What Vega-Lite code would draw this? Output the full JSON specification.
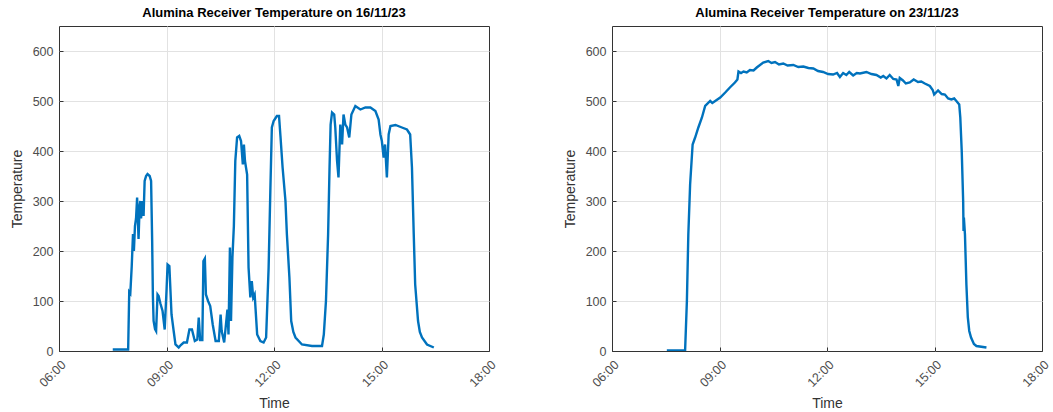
{
  "$schema": "https://vega.github.io/schema/vega-lite/v6.json",
  "background": "white",
  "padding": {"left": 9, "top": 6, "right": 5, "bottom": 2},
  "spacing": 63,
  "config": {
    "font": "Liberation Sans",
    "view": {"stroke": "#333333", "strokeWidth": 1},
    "title": {"fontSize": 13, "fontWeight": "bold", "color": "#000000", "offset": 6, "font": "Liberation Sans"},
    "axis": {
      "grid": true, "gridWidth": 1,
      "domain": false, "ticks": true, "tickSize": -4, "tickColor": "#333333", "tickWidth": 1,
      "labelColor": "#4d4d4d", "labelFontSize": 12.5, "labelFont": "Liberation Sans",
      "titleColor": "#333333", "titleFontSize": 14, "titleFontWeight": "normal", "titleFont": "Liberation Sans"
    }
  },
  "datasets": {
    "d1": [
      {"t":7.50,"temp":3},{"t":7.93,"temp":3},{"t":7.96,"temp":118},{"t":7.99,"temp":115},{"t":8.03,"temp":170},
      {"t":8.065,"temp":234},{"t":8.09,"temp":200},{"t":8.12,"temp":250},{"t":8.15,"temp":265},{"t":8.18,"temp":307},
      {"t":8.22,"temp":224},{"t":8.25,"temp":290},{"t":8.27,"temp":300},{"t":8.29,"temp":265},{"t":8.33,"temp":300},
      {"t":8.36,"temp":270},{"t":8.39,"temp":340},{"t":8.43,"temp":350},{"t":8.47,"temp":354},{"t":8.53,"temp":350},
      {"t":8.57,"temp":340},{"t":8.60,"temp":220},{"t":8.62,"temp":110},{"t":8.64,"temp":60},{"t":8.68,"temp":44},{"t":8.71,"temp":40},
      {"t":8.75,"temp":113},{"t":8.78,"temp":110},{"t":8.83,"temp":95},{"t":8.89,"temp":80},{"t":8.95,"temp":43},
      {"t":9.00,"temp":120},{"t":9.03,"temp":173},{"t":9.08,"temp":170},{"t":9.14,"temp":73},{"t":9.20,"temp":40},
      {"t":9.25,"temp":13},{"t":9.34,"temp":7},{"t":9.40,"temp":12},{"t":9.48,"temp":17},{"t":9.57,"temp":17},
      {"t":9.64,"temp":43},{"t":9.71,"temp":43},{"t":9.79,"temp":20},{"t":9.86,"temp":23},{"t":9.90,"temp":67},
      {"t":9.94,"temp":22},{"t":10.00,"temp":22},{"t":10.03,"temp":180},{"t":10.07,"temp":185},{"t":10.10,"temp":113},
      {"t":10.16,"temp":100},{"t":10.22,"temp":90},{"t":10.29,"temp":53},{"t":10.37,"temp":20},{"t":10.46,"temp":20},
      {"t":10.51,"temp":73},{"t":10.54,"temp":40},{"t":10.61,"temp":17},{"t":10.70,"temp":83},{"t":10.73,"temp":33},
      {"t":10.77,"temp":207},{"t":10.80,"temp":60},{"t":10.84,"temp":187},{"t":10.88,"temp":250},{"t":10.92,"temp":380},
      {"t":10.97,"temp":427},{"t":11.03,"temp":430},{"t":11.08,"temp":420},{"t":11.13,"temp":373},{"t":11.16,"temp":413},
      {"t":11.19,"temp":380},{"t":11.25,"temp":353},{"t":11.29,"temp":167},{"t":11.34,"temp":107},{"t":11.38,"temp":140},
      {"t":11.42,"temp":107},{"t":11.46,"temp":113},{"t":11.53,"temp":33},{"t":11.62,"temp":20},{"t":11.71,"temp":17},
      {"t":11.78,"temp":27},{"t":11.85,"temp":167},{"t":11.90,"temp":327},{"t":11.94,"temp":447},{"t":11.99,"temp":460},
      {"t":12.08,"temp":470},{"t":12.14,"temp":470},{"t":12.18,"temp":430},{"t":12.24,"temp":367},{"t":12.32,"temp":300},
      {"t":12.36,"temp":233},{"t":12.43,"temp":147},{"t":12.48,"temp":60},{"t":12.54,"temp":38},{"t":12.60,"temp":27},{"t":12.78,"temp":13},
      {"t":13.06,"temp":10},{"t":13.34,"temp":10},{"t":13.39,"temp":33},{"t":13.45,"temp":100},{"t":13.51,"temp":233},
      {"t":13.55,"temp":367},{"t":13.58,"temp":453},{"t":13.62,"temp":477},{"t":13.68,"temp":473},{"t":13.71,"temp":447},
      {"t":13.76,"temp":380},{"t":13.80,"temp":347},{"t":13.85,"temp":453},{"t":13.90,"temp":413},{"t":13.94,"temp":473},
      {"t":13.99,"temp":453},{"t":14.04,"temp":447},{"t":14.10,"temp":427},{"t":14.16,"temp":473},{"t":14.27,"temp":490},
      {"t":14.41,"temp":483},{"t":14.55,"temp":487},{"t":14.69,"temp":487},{"t":14.83,"temp":480},{"t":14.92,"temp":463},
      {"t":14.97,"temp":433},{"t":15.01,"temp":420},{"t":15.06,"temp":387},{"t":15.10,"temp":413},{"t":15.15,"temp":347},
      {"t":15.20,"temp":433},{"t":15.25,"temp":450},{"t":15.39,"temp":452},{"t":15.57,"temp":447},{"t":15.71,"temp":443},
      {"t":15.80,"temp":433},{"t":15.85,"temp":367},{"t":15.90,"temp":233},{"t":15.94,"temp":133},{"t":16.02,"temp":60},
      {"t":16.07,"temp":38},{"t":16.13,"temp":27},{"t":16.27,"temp":13},{"t":16.46,"temp":7}
    ],
    "d2": [
      {"t":7.53,"temp":1},{"t":8.04,"temp":1},{"t":8.09,"temp":100},{"t":8.13,"temp":233},{"t":8.18,"temp":333},
      {"t":8.25,"temp":413},{"t":8.32,"temp":427},{"t":8.41,"temp":447},{"t":8.51,"temp":467},{"t":8.60,"temp":490},
      {"t":8.74,"temp":500},{"t":8.80,"temp":496},{"t":8.88,"temp":500},{"t":9.02,"temp":507},{"t":9.16,"temp":517},
      {"t":9.29,"temp":527},{"t":9.43,"temp":537},{"t":9.50,"temp":543},{"t":9.53,"temp":559},{"t":9.60,"temp":556},
      {"t":9.67,"temp":559},{"t":9.76,"temp":557},{"t":9.85,"temp":562},{"t":9.95,"temp":561},{"t":10.04,"temp":567},
      {"t":10.22,"temp":577},{"t":10.36,"temp":580},{"t":10.45,"temp":576},{"t":10.55,"temp":578},{"t":10.66,"temp":573},
      {"t":10.78,"temp":575},{"t":10.90,"temp":571},{"t":11.06,"temp":572},{"t":11.20,"temp":568},{"t":11.34,"temp":569},
      {"t":11.48,"temp":566},{"t":11.62,"temp":565},{"t":11.75,"temp":560},{"t":11.89,"temp":558},{"t":12.03,"temp":554},
      {"t":12.17,"temp":553},{"t":12.28,"temp":556},{"t":12.36,"temp":548},{"t":12.45,"temp":556},{"t":12.54,"temp":552},
      {"t":12.62,"temp":558},{"t":12.73,"temp":551},{"t":12.83,"temp":556},{"t":12.92,"temp":555},{"t":13.10,"temp":558},
      {"t":13.24,"temp":554},{"t":13.38,"temp":552},{"t":13.50,"temp":547},{"t":13.57,"temp":550},{"t":13.66,"temp":545},
      {"t":13.75,"temp":552},{"t":13.85,"temp":544},{"t":13.94,"temp":543},{"t":13.99,"temp":530},{"t":14.03,"temp":546},
      {"t":14.12,"temp":541},{"t":14.20,"temp":535},{"t":14.31,"temp":537},{"t":14.42,"temp":543},{"t":14.54,"temp":538},
      {"t":14.63,"temp":539},{"t":14.73,"temp":535},{"t":14.87,"temp":530},{"t":14.95,"temp":522},{"t":14.99,"temp":513},
      {"t":15.10,"temp":521},{"t":15.20,"temp":514},{"t":15.29,"temp":513},{"t":15.38,"temp":505},{"t":15.47,"temp":503},
      {"t":15.55,"temp":505},{"t":15.61,"temp":500},{"t":15.69,"temp":493},{"t":15.72,"temp":467},{"t":15.76,"temp":400},
      {"t":15.80,"temp":300},{"t":15.81,"temp":240},{"t":15.82,"temp":267},{"t":15.85,"temp":233},{"t":15.89,"temp":133},
      {"t":15.93,"temp":67},{"t":15.97,"temp":40},{"t":16.02,"temp":27},{"t":16.10,"temp":14},{"t":16.17,"temp":10},{"t":16.45,"temp":7}
    ]
  },
  "hconcat": [
    {
      "data": {"name": "d1"},
      "title": "Alumina Receiver Temperature on 16/11/23",
      "width": 430, "height": 325,
      "mark": {"type": "line", "color": "#0072BD", "strokeWidth": 2.4, "clip": true},
      "encoding": {
        "x": {"field": "t", "type": "quantitative", "scale": {"domain": [6, 18], "nice": false},
          "axis": {"title": "Time", "values": [6, 9, 12, 15, 18], "labelAngle": -45, "labelAlign": "right", "labelBaseline": "top", "labelPadding": 11, "titlePadding": 8,
            "gridColor": {"condition": {"test": "datum.value == 6 || datum.value == 18", "value": "transparent"}, "value": "#e2e2e2"},
            "labelExpr": "(datum.value < 10 ? '0' : '') + datum.value + ':00'"}},
        "y": {"field": "temp", "type": "quantitative", "scale": {"domain": [0, 650], "nice": false},
          "axis": {"title": "Temperature", "values": [0, 100, 200, 300, 400, 500, 600], "labelPadding": 10, "titlePadding": 8,
            "gridColor": {"condition": {"test": "datum.value == 0", "value": "transparent"}, "value": "#e2e2e2"}}}
      }
    },
    {
      "data": {"name": "d2"},
      "title": "Alumina Receiver Temperature on 23/11/23",
      "width": 430, "height": 325,
      "mark": {"type": "line", "color": "#0072BD", "strokeWidth": 2.4, "clip": true},
      "encoding": {
        "x": {"field": "t", "type": "quantitative", "scale": {"domain": [6, 18], "nice": false},
          "axis": {"title": "Time", "values": [6, 9, 12, 15, 18], "labelAngle": -45, "labelAlign": "right", "labelBaseline": "top", "labelPadding": 11, "titlePadding": 8,
            "gridColor": {"condition": {"test": "datum.value == 6 || datum.value == 18", "value": "transparent"}, "value": "#e2e2e2"},
            "labelExpr": "(datum.value < 10 ? '0' : '') + datum.value + ':00'"}},
        "y": {"field": "temp", "type": "quantitative", "scale": {"domain": [0, 650], "nice": false},
          "axis": {"title": "Temperature", "values": [0, 100, 200, 300, 400, 500, 600], "labelPadding": 10, "titlePadding": 8,
            "gridColor": {"condition": {"test": "datum.value == 0", "value": "transparent"}, "value": "#e2e2e2"}}}
      }
    }
  ]
}
